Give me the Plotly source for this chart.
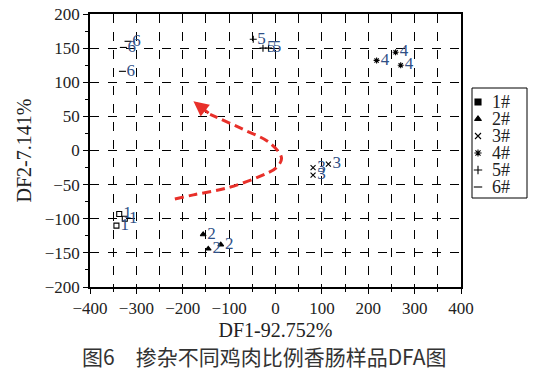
import plotly.graph_objects as go

# ---- data ----
groups = ["1#", "2#", "3#", "4#", "5#", "6#"]
g1_x = [-337, -343, -325]
g1_y = [-93, -110, -100]
g2_x = [-156, -145, -118]
g2_y = [-123, -144, -138]
g3_x = [81, 81, 114]
g3_y = [-25, -36, -20]
g4_x = [218, 259, 270]
g4_y = [132, 144, 125]
g5_x = [-48, -27, -15]
g5_y = [163, 150, 150]
g6_x = [-328, -330, -318]
g6_y = [151, 116, 160]

curve_x = [-217, -177, -105, -34, 2, 13, -12, -70, -141]
curve_y = [-71, -65, -55, -38, -25, -11, 11, 31, 53]
arrow_tip = (-177, 72)

x_ticks = [-400, -300, -200, -100, 0, 100, 200, 300, 400]
y_ticks = [-200, -150, -100, -50, 0, 50, 100, 150, 200]

data_sym = ["square-open", "triangle-up", "x-thin-open", "asterisk-open", "cross-thin-open", "line-ew-open"]
leg_sym = ["square", "triangle-up", "x-thin-open", "asterisk-open", "cross-thin-open", "line-ew-open"]
xs = [g1_x, g2_x, g3_x, g4_x, g5_x, g6_x]
ys = [g1_y, g2_y, g3_y, g4_y, g5_y, g6_y]

SERIF = "Liberation Serif, Times New Roman, serif"
OFF = 8                      # page body margin of the html
W, H = 536 - OFF, 370 - OFF
ML, MT, MB = 90 - OFF, 14 - OFF, 83
PLOT_W = 371
PW, PH = W - ML, H - MT - MB


def px(xp):
    return (xp - OFF - ML) / PW


def py(yp):
    return (OFF + H - MB - yp) / PH


fig = go.Figure()

# red dashed curve
fig.add_trace(go.Scatter(x=curve_x, y=curve_y, mode="lines",
                         line=dict(color="#e8302a", width=3, dash="9px,5px", shape="spline"),
                         showlegend=False, hoverinfo="skip"))
fig.add_annotation(x=arrow_tip[0], y=arrow_tip[1], ax=curve_x[-1], ay=curve_y[-1],
                   xref="x", yref="y", axref="x", ayref="y", text="",
                   showarrow=True, arrowhead=2, arrowsize=1, arrowwidth=3, arrowcolor="#e8302a")

for i, g in enumerate(groups):
    num = g[0]
    fig.add_trace(go.Scatter(
        x=xs[i], y=ys[i], mode="markers+text",
        text=[num] * len(xs[i]), textposition="middle right",
        textfont=dict(family=SERIF, size=17, color="#2f4f86"),
        marker=dict(symbol=data_sym[i], size=5, color="black",
                    line=dict(color="black", width=1.1)),
        showlegend=False, hoverinfo="skip"))

# ---- hand-drawn legend (separate small subplot in pixel units) ----
X2_DOM = (0.84, 1.0)
LEG_X0, LEG_X1, LEG_Y0, LEG_Y1 = 472, 527, 88, 198
leg_item_y = [102 + 17 * i for i in range(len(groups))]
for i, g in enumerate(groups):
    fig.add_trace(go.Scatter(
        x=[478], y=[leg_item_y[i]], xaxis="x2", yaxis="y2", mode="markers",
        marker=dict(symbol=leg_sym[i], size=6, color="black",
                    line=dict(color="black", width=1.1)),
        showlegend=False, hoverinfo="skip", cliponaxis=False))
    fig.add_annotation(x=px(490), y=py(leg_item_y[i]), xref="paper", yref="paper", text=g,
                       xanchor="left", yanchor="middle", showarrow=False,
                       font=dict(family=SERIF, size=18, color="#222"))
fig.add_shape(type="rect", xref="paper", yref="paper",
              x0=px(LEG_X0), x1=px(LEG_X1), y0=py(LEG_Y1), y1=py(LEG_Y0),
              line=dict(color="black", width=1))

axis_common = dict(
    showline=True, linecolor="black", linewidth=1.5, mirror=True,
    ticks="outside", ticklen=5, tickcolor="black", tickwidth=1.2,
    showgrid=True, gridcolor="black", gridwidth=1, griddash="dash",
    zeroline=False, tickfont=dict(family=SERIF, size=17, color="#222"),
    automargin=False, ticklabeloverflow="allow",
)

fig.update_layout(
    xaxis=dict(range=[-400, 400], tickvals=x_ticks, domain=[0, PLOT_W / PW], anchor="y",
               minor=dict(dtick=50, tick0=0, ticks="outside", ticklen=3, tickcolor="black",
                          showgrid=True, gridcolor="black", griddash="dash", gridwidth=1),
               title=dict(text="DF1-92.752%", font=dict(family=SERIF, size=20, color="#222"), standoff=6),
               **axis_common),
    yaxis=dict(range=[-200, 200], tickvals=y_ticks, domain=[0, 1], anchor="x",
               minor=dict(dtick=25, tick0=0, ticks="outside", ticklen=3, tickcolor="black", showgrid=False),
               title=dict(text="DF2-7.141%", font=dict(family=SERIF, size=20, color="#222"), standoff=8),
               **axis_common),
    xaxis2=dict(domain=list(X2_DOM), range=[OFF + ML + X2_DOM[0] * PW, OFF + ML + X2_DOM[1] * PW],
                visible=False, anchor="y2", fixedrange=True),
    yaxis2=dict(domain=[0, 1], range=[OFF + H - MB, OFF + MT], visible=False, anchor="x2", fixedrange=True),
)

fig.add_annotation(text="图6\u3000掺杂不同鸡肉比例香肠样品DFA图", xref="paper", yref="paper",
                   x=px(264), y=py(356), xanchor="center", yanchor="middle", showarrow=False,
                   font=dict(family="Noto Sans CJK SC", size=21, color="#333"))

fig.update_layout(
    width=W, height=H,
    margin=dict(l=ML, r=0, t=MT, b=MB),
    plot_bgcolor="white", paper_bgcolor="white",
    showlegend=False,
)

fig.write_html("out.html")
